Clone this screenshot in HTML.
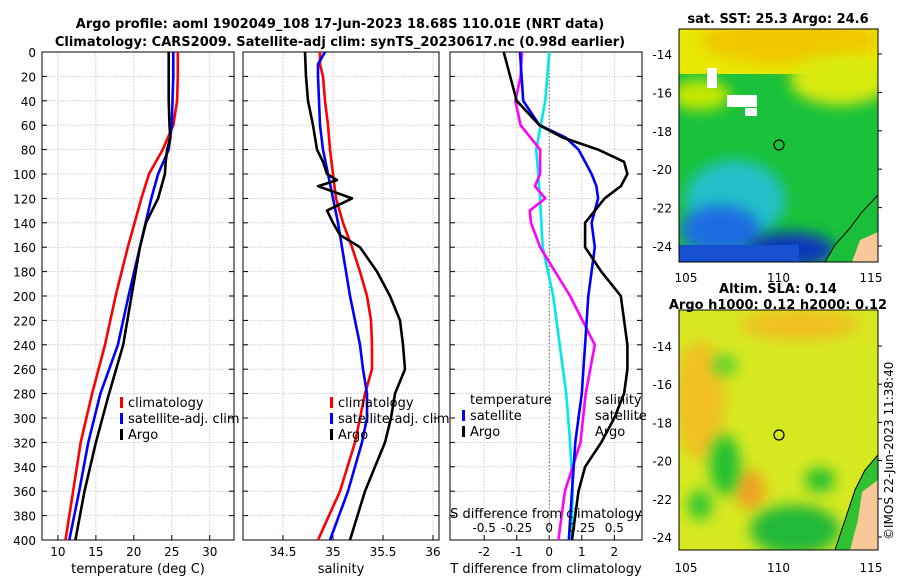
<!DOCTYPE html>
<html><head><meta charset="utf-8"><style>
body{margin:0;background:#fff;font-family:"Liberation Sans","DejaVu Sans",sans-serif;}
svg text{font-family:"DejaVu Sans","Liberation Sans",sans-serif;}
</style></head><body>
<svg id="chart" width="900" height="580" viewBox="0 0 900 580" xmlns="http://www.w3.org/2000/svg">
<defs>
<filter id="blur" x="-50%" y="-50%" width="200%" height="200%"><feGaussianBlur stdDeviation="7"/></filter>
<clipPath id="c1"><rect x="679" y="29" width="199" height="233"/></clipPath>
<clipPath id="c2"><rect x="679" y="310" width="199" height="240"/></clipPath>
</defs>
<text x="340" y="28" text-anchor="middle" font-size="13" font-weight="bold">Argo profile: aoml 1902049_108 17-Jun-2023 18.68S 110.01E (NRT data)</text>
<text x="340" y="46" text-anchor="middle" font-size="13" font-weight="bold">Climatology: CARS2009. Satellite-adj clim: synTS_20230617.nc (0.98d earlier)</text>
<g id="panels"></g>
<g clip-path="url(#c1)">
<rect x="679" y="29" width="199" height="233" fill="#19c23a"/>
<rect x="679" y="29" width="199" height="45" fill="#e8e800"/>
<ellipse cx="790" cy="40" rx="90" ry="25" fill="#f0c800" filter="url(#blur)"/>
<ellipse cx="840" cy="80" rx="50" ry="25" fill="#d8ea10" filter="url(#blur)"/>
<ellipse cx="700" cy="95" rx="30" ry="15" fill="#c8e800" filter="url(#blur)"/>
<ellipse cx="735" cy="200" rx="50" ry="40" fill="#20c0c8" filter="url(#blur)"/>
<ellipse cx="720" cy="230" rx="40" ry="25" fill="#1a6ee0" filter="url(#blur)"/>
<ellipse cx="790" cy="250" rx="45" ry="18" fill="#0838b8" filter="url(#blur)"/>
<rect x="679" y="245" width="120" height="20" fill="#1450d0"/>
<rect x="707" y="68" width="10" height="20" fill="#fff"/><rect x="727" y="95" width="30" height="12" fill="#fff"/><rect x="745" y="108" width="12" height="8" fill="#fff"/>
<path d="M878,195 L862,212 L850,228 L835,245 L825,262 L878,262 Z" fill="#1bbe3a" stroke="#000"/>
<path d="M878,232 L860,240 L852,262 L878,262 Z" fill="#f8c898"/>
</g>
<rect x="679" y="29" width="199" height="233" fill="none" stroke="#000"/>
<circle cx="779" cy="145" r="5" fill="none" stroke="#000" stroke-width="1.2"/>
<g clip-path="url(#c2)">
<rect x="679" y="310" width="199" height="240" fill="#d6e820"/>
<ellipse cx="700" cy="400" rx="25" ry="60" fill="#f0c020" filter="url(#blur)"/>
<ellipse cx="800" cy="325" rx="60" ry="15" fill="#f0c020" filter="url(#blur)"/>
<ellipse cx="750" cy="490" rx="15" ry="20" fill="#f0a020" filter="url(#blur)"/>
<ellipse cx="725" cy="465" rx="15" ry="30" fill="#20c030" filter="url(#blur)"/>
<ellipse cx="795" cy="530" rx="45" ry="25" fill="#20b838" filter="url(#blur)"/>
<ellipse cx="820" cy="480" rx="15" ry="12" fill="#20c030" filter="url(#blur)"/>
<ellipse cx="700" cy="505" rx="12" ry="15" fill="#30c830" filter="url(#blur)"/>
<ellipse cx="725" cy="365" rx="12" ry="10" fill="#50d030" filter="url(#blur)"/>
<path d="M878,455 L865,470 L855,490 L845,520 L835,550 L878,550 Z" fill="#30c030" stroke="#000"/>
<path d="M878,480 L862,492 L858,520 L850,550 L878,550 Z" fill="#f8c898"/>
</g>
<rect x="679" y="310" width="199" height="240" fill="none" stroke="#000"/>
<circle cx="779" cy="435" r="5" fill="none" stroke="#000" stroke-width="1.2"/>
<text x="778" y="23" text-anchor="middle" font-size="13" font-weight="bold">sat. SST: 25.3 Argo: 24.6</text>
<text x="778" y="293" text-anchor="middle" font-size="13" font-weight="bold">Altim. SLA: 0.14</text>
<text x="778" y="309" text-anchor="middle" font-size="13" font-weight="bold">Argo h1000: 0.12 h2000: 0.12</text>
<text transform="translate(893,540) rotate(-90)" font-size="12">©IMOS 22-Jun-2023 11:38:40</text>
<g id="maps-ticks"></g>
</svg>
<script>
const depths = [0,20,40,60,80,100,120,160,200,240,280,320,360,400];
const tClim = [25.8,25.8,25.7,25.2,23.8,22,21,19.2,17.6,16.2,14.5,13,12,11];
const tSat  = [25.2,25.2,25.1,25.0,24.6,23.2,22.3,20.8,19.3,17.9,15.6,14,12.8,11.5];
const tArgoDepth = [0,20,40,60,70,80,90,100,120,140,160,200,240,283,320,360,400];
const tArgo = [24.6,24.6,24.6,24.7,24.8,24.4,24.2,24.1,23.2,21.6,20.8,19.7,18.6,16.6,15,13.5,12.3];
const sDepth = [0,10,20,40,60,80,100,120,140,160,180,200,220,240,260,280,300,320,360,400];
const sClim = [34.87,34.87,34.9,34.92,34.95,34.97,35.0,35.03,35.1,35.19,35.27,35.34,35.38,35.39,35.39,35.32,35.27,35.22,35.07,34.85];
const sSat  = [34.92,34.85,34.85,34.86,34.87,34.9,34.95,35.0,35.05,35.09,35.13,35.17,35.22,35.27,35.3,35.34,35.34,35.29,35.15,34.97];
const sArgoDepth = [0,20,40,60,70,80,90,100,105,110,120,130,140,150,160,180,200,220,240,260,280,300,320,340,360,400];
const sArgo = [34.72,34.73,34.75,34.8,34.82,34.84,34.9,34.94,35.04,34.85,35.19,34.94,35.0,35.07,35.27,35.44,35.57,35.67,35.7,35.72,35.62,35.58,35.52,35.42,35.32,35.17];
const dDepth = [0,20,40,60,70,80,90,100,110,120,140,160,180,200,220,240,260,280,300,320,340,360,400];
const dTArgo = [-1.4,-1.2,-1.0,-0.3,0.4,1.5,2.3,2.4,2.2,1.7,1.1,1.1,1.6,2.2,2.3,2.4,2.4,2.3,2.0,1.6,1.1,0.9,0.7];
const dTSat = [-0.9,-0.85,-0.8,-0.3,0.5,0.9,1.1,1.3,1.45,1.5,1.3,1.4,1.3,1.2,1.15,1.1,1.05,1.0,0.9,0.8,0.75,0.7,0.6];
const sdDepth = [0,40,80,120,160,200,240,280,320,360,400];
const dSSat = [0,-0.03,-0.1,-0.07,-0.05,0.03,0.08,0.13,0.16,0.18,0.17];
const sdArgoDepth = [0,20,40,60,80,100,110,120,130,140,160,200,240,280,320,360,400];
const dSArgo = [-0.21,-0.22,-0.26,-0.22,-0.07,-0.07,-0.11,-0.03,-0.15,-0.14,-0.07,0.16,0.35,0.28,0.24,0.12,0.07];
const depthTicks = [0,20,40,60,80,100,120,140,160,180,200,220,240,260,280,300,320,340,360,380,400];
const tTicks = [10,15,20,25,30];
const sTicks = [34.5,35,35.5,36];
const dtTicks = [-2,-1,0,1,2];
const dsTicks = [-0.5,-0.25,0,0.25,0.5];
const dsTickLabels = ['-0.5','-0.25','0','0.25','0.5'];

const NS='http://www.w3.org/2000/svg';
const svg=document.getElementById('panels');
const Y0=52,Y1=540;
const yS=d=>Y0+(d/400)*(Y1-Y0);
function mk(tag,attrs,parent){const e=document.createElementNS(NS,tag);for(const k in attrs)e.setAttribute(k,attrs[k]);(parent||svg).appendChild(e);return e;}
function lin(d0,d1,r0,r1){return v=>r0+(v-d0)/(d1-d0)*(r1-r0);}
function txt(x,y,s,attrs,name){const t=mk('text',Object.assign({x:x,y:y,'font-size':12},attrs||{}));t.textContent=s;


return t;}
function panel(x0,x1,xs,ticks,labels,xlabel,name){
  const g=mk('g',{});
  
  
  depthTicks.forEach(d=>{const l=mk('line',{x1:x0,x2:x1,y1:yS(d),y2:yS(d),stroke:'#b8c4e8','stroke-width':0.8,'stroke-dasharray':'1.5,1.5'},g);
    
    });
  ticks.forEach((t,i)=>{const x=xs(t);const l=mk('line',{x1:x,x2:x,y1:Y0,y2:Y1,stroke:'#e0b8a8','stroke-width':0.8,'stroke-dasharray':'1.5,1.5'},g);
    
    
    mk('line',{x1:x,x2:x,y1:Y1,y2:Y1-5,stroke:'#000'},g);
    txt(x,Y1+16,labels[i],{'text-anchor':'middle'},'x-tick-label');});
  depthTicks.forEach(d=>{mk('line',{x1:x0,x2:x0+5,y1:yS(d),y2:yS(d),stroke:'#000'},g);mk('line',{x1:x1,x2:x1-5,y1:yS(d),y2:yS(d),stroke:'#000'},g);});
  const r=mk('rect',{x:x0,y:Y0,width:x1-x0,height:Y1-Y0,fill:'none',stroke:'#000'},g);
  
  
  if(xlabel)txt((x0+x1)/2,Y1+33,xlabel,{'text-anchor':'middle','font-size':13},'x-axis-title');
  return g;
}
function line(g,xs,vals,ds,color,name){
  const p=vals.map((v,i)=>(i?'L':'M')+xs(v).toFixed(1)+','+yS(ds[i]).toFixed(1)).join('');
  const e=mk('path',{d:p,fill:'none',stroke:color,'stroke-width':2.6,'stroke-linejoin':'round'},g);
  
  
}
function legend(g,x,y,items){
  items.forEach((it,i)=>{const yy=y+i*16;
    if(it[1])mk('rect',{x:x,y:yy-10,width:3,height:11,fill:it[1]},g);
    txt(x+8,yy,it[0],{'font-size':13},'legend-entry');});
}
depthTicks.forEach(d=>txt(36,yS(d)+5,String(d),{'text-anchor':'end','font-size':12},'y-tick-label'));
const xT=lin(7.9,33.2,42,234);
const g1=panel(42,234,xT,tTicks,tTicks.map(String),'temperature (deg C)','temperature-panel');
line(g1,xT,tClim,depths,'#ff0000','temp-climatology-line');
line(g1,xT,tSat,depths,'#0000ff','temp-satellite-line');
line(g1,xT,tArgo,tArgoDepth,'#000','temp-argo-line');
legend(g1,120,407,[['climatology','#f00'],['satellite-adj. clim','#00f'],['Argo','#000']]);
const xSl=lin(34.1,36.06,243,439);
const g2=panel(243,439,xSl,sTicks,sTicks.map(String),'salinity','salinity-panel');
line(g2,xSl,sClim,sDepth,'#ff0000','sal-climatology-line');
line(g2,xSl,sSat,sDepth,'#0000ff','sal-satellite-line');
line(g2,xSl,sArgo,sArgoDepth,'#000','sal-argo-line');
legend(g2,330,407,[['climatology','#f00'],['satellite-adj. clim','#00f'],['Argo','#000']]);
const xD=lin(-3.05,2.85,450,642);
const xDS=lin(-0.7625,0.7125,450,642);
const g3=panel(450,642,xD,dtTicks,dtTicks.map(String),'T difference from climatology','difference-panel');
const z=mk('line',{x1:xD(0),x2:xD(0),y1:Y0,y2:Y1,stroke:'#666','stroke-dasharray':'1.5,2'},g3);


line(g3,xDS,dSSat,sdDepth,'#00e8e8','sdiff-satellite-line');
line(g3,xDS,dSArgo,sdArgoDepth,'#ff00ff','sdiff-argo-line');
line(g3,xD,dTSat,dDepth,'#0000ff','tdiff-satellite-line');
line(g3,xD,dTArgo,dDepth,'#000','tdiff-argo-line');
legend(g3,462,404,[['temperature',null],['satellite','#00f'],['Argo','#000']]);
legend(g3,587,404,[['salinity',null],['satellite',null],['Argo',null]]);
txt(546,518,'S difference from climatology',{'text-anchor':'middle','font-size':13},'s-diff-axis-title');
dsTicks.forEach((t,i)=>txt(xDS(t),532,dsTickLabels[i],{'text-anchor':'middle','font-size':12},'s-diff-tick-label'));
const mg=document.getElementById('maps-ticks');
const lonTicks=[105,110,115];
const latTicks=[-14,-16,-18,-20,-22,-24];
const lonX=lin(105,115,686,871);
const latY1=lin(-14,-24,54,246), latY2=lin(-14,-24,346,537);
lonTicks.forEach(l=>{txt(lonX(l),282,String(l),{'text-anchor':'middle'},'sst-lon-label');txt(lonX(l),572,String(l),{'text-anchor':'middle'},'sla-lon-label');});
latTicks.forEach(l=>{txt(672,latY1(l)+5,String(l),{'text-anchor':'end'},'sst-lat-label');txt(672,latY2(l)+5,String(l),{'text-anchor':'end'},'sla-lat-label');
  mk('line',{x1:878,x2:882,y1:latY1(l),y2:latY1(l),stroke:'#000'},mg);mk('line',{x1:878,x2:882,y1:latY2(l),y2:latY2(l),stroke:'#000'},mg);});
</script>
</body></html>
